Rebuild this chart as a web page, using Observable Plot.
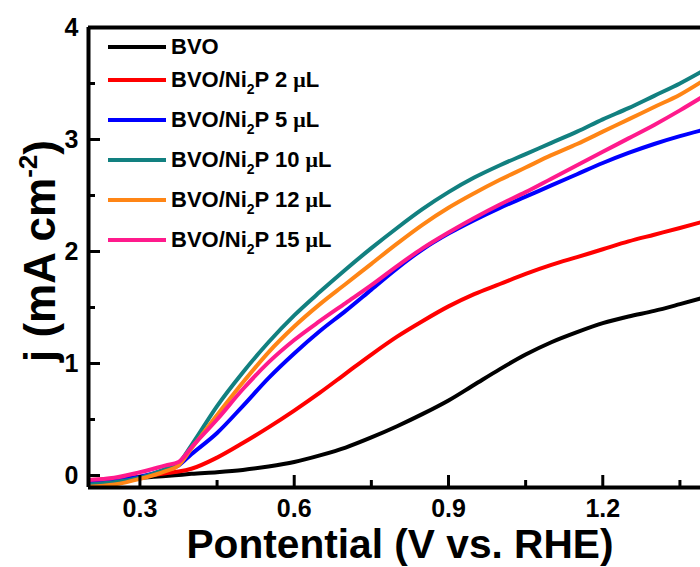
<!DOCTYPE html>
<html><head><meta charset="utf-8">
<script src="https://cdn.jsdelivr.net/npm/d3@7"></script>
<script src="https://cdn.jsdelivr.net/npm/@observablehq/plot@0.6"></script>
<style>
body{margin:0;background:#fff;}
#wrap{position:relative;width:700px;height:567px;font-family:"Liberation Sans",Arial,sans-serif;font-weight:bold;color:#000;}
.leg{position:absolute;left:108px;height:0;white-space:nowrap;}
.sw{position:absolute;left:0;top:-2px;width:58px;height:4px;}
.lt{position:absolute;left:63px;top:-13px;line-height:26px;font-size:22px;}
.lt sub{font-size:14px;vertical-align:-7px;line-height:0;}
.mu{font-family:"Liberation Serif",serif;}
</style></head>
<body><div id="wrap"></div>
<script>
// ---- data ----
const potential = [0.20,0.25,0.30,0.35,0.375,0.40,0.45,0.50,0.55,0.60,0.65,0.70,0.75,0.80,0.85,0.90,0.95,1.00,1.05,1.10,1.15,1.20,1.25,1.30,1.35,1.39];
const bvo    = [-0.045,-0.035,-0.02,-0.005,0.005,0.015,0.03,0.05,0.08,0.12,0.18,0.25,0.34,0.44,0.55,0.67,0.81,0.95,1.08,1.19,1.28,1.36,1.42,1.47,1.53,1.58];
const ni2p2  = [-0.04,-0.03,-0.01,0.02,0.035,0.06,0.16,0.29,0.43,0.58,0.74,0.91,1.08,1.24,1.38,1.51,1.62,1.71,1.80,1.88,1.95,2.02,2.09,2.15,2.21,2.26];
const ni2p5  = [-0.05,-0.04,-0.01,0.05,0.09,0.19,0.38,0.62,0.87,1.09,1.29,1.47,1.66,1.85,2.02,2.16,2.28,2.39,2.49,2.59,2.69,2.79,2.88,2.96,3.03,3.08];
const ni2p10 = [-0.08,-0.06,-0.02,0.06,0.11,0.27,0.62,0.92,1.19,1.43,1.64,1.84,2.03,2.21,2.38,2.53,2.66,2.77,2.87,2.97,3.07,3.18,3.28,3.39,3.50,3.60];
const ni2p12 = [-0.10,-0.08,-0.03,0.04,0.09,0.24,0.54,0.83,1.10,1.33,1.53,1.71,1.89,2.07,2.24,2.39,2.52,2.64,2.75,2.86,2.96,3.07,3.18,3.29,3.40,3.51];
const ni2p15 = [-0.04,-0.02,0.03,0.09,0.12,0.25,0.50,0.77,1.01,1.21,1.38,1.54,1.70,1.87,2.03,2.17,2.30,2.42,2.53,2.65,2.77,2.89,3.01,3.13,3.26,3.37];

const seriesNames  = ["BVO","BVO/Ni2P 2 μL","BVO/Ni2P 5 μL","BVO/Ni2P 10 μL","BVO/Ni2P 12 μL","BVO/Ni2P 15 μL"];
const seriesValues = [bvo, ni2p2, ni2p5, ni2p10, ni2p12, ni2p15];
const seriesColors = ["#000000","#ff0000","#0000ff","#128080","#ff8515","#ff1a8c"];
const legendAmounts = [null,"2","5","10","12","15"];

const xMajor = [0.3,0.6,0.9,1.2];
const xMinor = [0.45,0.75,1.05,1.35];
const yMajor = [0,1,2,3,4];
const yMinor = [0.5,1.5,2.5,3.5];
const xDomain = [0.2,1.39];
const yDomain = [-0.107,4];

const xTitle = "Pontential (V vs. RHE)";

// ---- build ----
const W=700,H=567,mL=88,mR=0,mT=27,mB=80;
const plotW=W-mL-mR, plotH=H-mT-mB;
const rows = seriesNames.flatMap((s,k)=>potential.map((v,i)=>({s, v, j: seriesValues[k][i]})));

const chart = Plot.plot({
  width:W, height:H, marginLeft:mL, marginRight:mR, marginTop:mT, marginBottom:mB,
  style:{fontFamily:'"Liberation Sans",Arial,sans-serif', fontSize:"25px", fontWeight:"bold", color:"#000", background:"#fff", overflow:"visible"},
  x:{domain:xDomain, label:null},
  y:{domain:yDomain, label:null},
  color:{domain:seriesNames, range:seriesColors},
  marks:[
    Plot.line(rows,{x:"v", y:"j", z:"s", stroke:"s", strokeWidth:4, curve:"monotone-x", clip:true}),
    Plot.axisX(xMajor,{tickSize:0, tickPadding:12, tickFormat:d=>d.toFixed(1), label:null, fontSize:25}),
    Plot.axisY(yMajor,{tickSize:0, tickPadding:10, tickFormat:d=>String(d), label:null, fontSize:25}),
    Plot.tickX(xMajor,{x:d=>d, insetTop:plotH-12, stroke:"#000", strokeWidth:3}),
    Plot.tickX(xMinor,{x:d=>d, insetTop:plotH-7, stroke:"#000", strokeWidth:3}),
    Plot.tickY(yMajor,{y:d=>d, insetRight:plotW-12, stroke:"#000", strokeWidth:3}),
    Plot.tickY(yMinor,{y:d=>d, insetRight:plotW-7, stroke:"#000", strokeWidth:3}),
    Plot.ruleX([xDomain[0]],{stroke:"#000", strokeWidth:4}),
    Plot.ruleY([yDomain[0]],{stroke:"#000", strokeWidth:4}),
    Plot.ruleY([yDomain[1]],{stroke:"#000", strokeWidth:4})
  ]
});

const wrap = document.getElementById("wrap");
wrap.appendChild(chart);

// axis titles
const svg = d3.select(chart);
svg.append("text")
  .attr("x",400).attr("y",558).attr("text-anchor","middle")
  .attr("font-size",40).attr("font-weight","bold").attr("fill","#000")
  .attr("textLength",427).attr("lengthAdjust","spacingAndGlyphs")
  .text(xTitle);
const yt = svg.append("text")
  .attr("transform","translate(55,251) rotate(-90)").attr("text-anchor","middle")
  .attr("font-size",44).attr("font-weight","bold").attr("fill","#000");
yt.append("tspan").text("j (mA cm");
yt.append("tspan").attr("font-size",26).attr("dy",-18).text("-2");
yt.append("tspan").attr("dy",18).text(")");

// legend
const legendCenters = [47,80,120,160,200,240];
seriesNames.forEach((s,i)=>{
  const row = document.createElement("div");
  row.className="leg"; row.style.top = legendCenters[i]+"px";
  const sw = document.createElement("div"); sw.className="sw"; sw.style.background=seriesColors[i];
  const t = document.createElement("div"); t.className="lt";
  if(legendAmounts[i]===null){ t.textContent="BVO"; }
  else { t.innerHTML = 'BVO/Ni<sub>2</sub>P ' + legendAmounts[i] + ' <span class="mu">μ</span>L'; }
  row.appendChild(sw); row.appendChild(t); wrap.appendChild(row);
});
</script>
</body></html>
